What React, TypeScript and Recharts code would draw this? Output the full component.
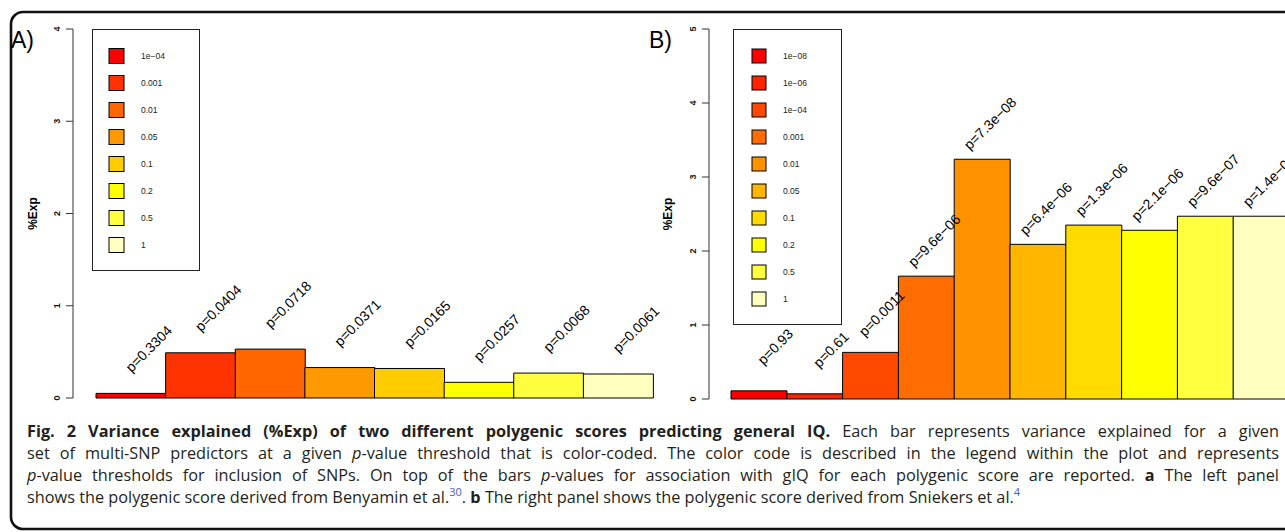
import React from "react";
import { BarChart, Bar, XAxis, YAxis, Cell, LabelList, Legend } from "recharts";

// panel A: Benyamin et al. score
const thresholdsA = ["1e\u221204", "0.001", "0.01", "0.05", "0.1", "0.2", "0.5", "1"];
const expA = [0.05, 0.49, 0.53, 0.33, 0.32, 0.17, 0.27, 0.26];
const pLabelsA = ["p=0.3304", "p=0.0404", "p=0.0718", "p=0.0371", "p=0.0165", "p=0.0257", "p=0.0068", "p=0.0061"];
const colorsA = ["#FF0000", "#FF3300", "#FF6600", "#FF9900", "#FFCC00", "#FFFF00", "#FFFF40", "#FFFFBF"];
const ticksA = [0, 1, 2, 3, 4];

// panel B: Sniekers et al. score
const thresholdsB = ["1e\u221208", "1e\u221206", "1e\u221204", "0.001", "0.01", "0.05", "0.1", "0.2", "0.5", "1"];
const expB = [0.11, 0.07, 0.63, 1.66, 3.24, 2.09, 2.35, 2.28, 2.47, 2.47];
const pLabelsB = [
  "p=0.93", "p=0.61", "p=0.0011", "p=9.6e\u221206", "p=7.3e\u221208",
  "p=6.4e\u221206", "p=1.3e\u221206", "p=2.1e\u221206", "p=9.6e\u221207", "p=1.4e\u221206",
];
const colorsB = ["#FF0000", "#FF2400", "#FF4900", "#FF6D00", "#FF9200", "#FFB600", "#FFDB00", "#FFFF00", "#FFFF40", "#FFFFBF"];
const ticksB = [0, 1, 2, 3, 4, 5];

const FONT = "'Liberation Sans', Arial, Helvetica, sans-serif";

const YTick = (props: any) => {
  const { x, y, payload } = props;
  const tx = x - 7;
  return (
    <text x={tx} y={y} transform={`rotate(-90 ${tx} ${y})`} textAnchor="middle" dominantBaseline="central"
      fontSize={9} fontWeight="bold" fill="#111" fontFamily={FONT}>
      {payload.value}
    </text>
  );
};

function LegendBox({ items, colors, w, h, swX, sw, txtX }: any) {
  return (
    <svg width={w} height={h} style={{ display: "block" }}>
      <rect x={0.5} y={0.5} width={w - 1} height={h - 1} fill="#fff" stroke="#222" strokeWidth={1} />
      {items.map((t: string, i: number) => {
        const cy = 27 + i * 27;
        return (
          <g key={t}>
            <rect x={swX} y={cy - sw / 2} width={sw} height={sw} fill={colors[i]} stroke="#000" strokeWidth={1} />
            <text x={txtX} y={cy} dominantBaseline="central" fontSize={8.5} fill="#222" fontFamily={FONT}>{t}</text>
          </g>
        );
      })}
    </svg>
  );
}

function Panel({ thresholds, values, pLabels, colors, ticks, left, width, axisWidth, padLeft, marginRight, bottom, labelDx, labelDy, legend }: any) {
  const data = values.map((v: number, i: number) => ({ threshold: thresholds[i], exp: v, p: pLabels[i] }));
  const max = ticks[ticks.length - 1];
  const renderLabel = (props: any) => {
    const { x, y, width: bw, value } = props;
    const ax = Number(x) + Number(bw) / 2 + labelDx;
    const ay = Number(y) + labelDy;
    return (
      <text x={ax} y={ay} textAnchor="end" fontSize={14} fill="#000" fontFamily={FONT}
        transform={`rotate(-45 ${ax} ${ay})`}>
        {value}
      </text>
    );
  };
  return (
    <div style={{ position: "absolute", left, top: 0 }}>
      <BarChart width={width} height={532} data={data} barCategoryGap={0} barGap={0}
        margin={{ top: 29, right: marginRight, bottom, left: 0 }}>
        <XAxis dataKey="threshold" hide padding={{ left: padLeft, right: 0 }} />
        <YAxis type="number" domain={[0, max]} ticks={ticks} interval={0} width={axisWidth}
          tickSize={7} tickMargin={2} tick={<YTick />}
          axisLine={{ stroke: "#333" }} tickLine={{ stroke: "#333" }}
          label={{
            content: (p: any) => {
              const vb = p.viewBox;
              const cx = vb.x + legend.titleX;
              const cy = vb.y + vb.height / 2;
              return (
                <text x={cx} y={cy} transform={`rotate(-90 ${cx} ${cy})`} textAnchor="middle" dominantBaseline="central"
                  fontSize={12} fontWeight="bold" fill="#000" fontFamily={FONT}>%Exp</text>
              );
            },
          }}
        />
        <Legend layout="vertical" align="center" verticalAlign="middle"
          wrapperStyle={{ left: legend.x, top: 29, width: legend.w, height: legend.h }}
          content={() => (
            <LegendBox items={thresholds} colors={colors} w={legend.w} h={legend.h} swX={legend.swX} sw={legend.sw} txtX={legend.txtX} />
          )}
        />
        <Bar dataKey="exp" isAnimationActive={false} stroke="#000" strokeWidth={1}>
          {data.map((d: any, i: number) => <Cell key={d.threshold} fill={colors[i]} />)}
          <LabelList dataKey="p" content={renderLabel} />
        </Bar>
      </BarChart>
    </div>
  );
}

const captionLine: React.CSSProperties = { textAlign: "justify", textAlignLast: "justify", height: 22, whiteSpace: "normal" };
const sup: React.CSSProperties = { color: "#4a5ad8", fontSize: 11, verticalAlign: 7, lineHeight: 0 };

export default function App() {
  return (
    <div style={{ position: "absolute", left: 0, top: 0, width: 1285, height: 532, overflow: "hidden", background: "#fff" }}>
      <svg width={1285} height={532} style={{ position: "absolute", left: 0, top: 0 }}>
        <rect x={11} y={12} width={1400} height={517} rx={12} fill="none" stroke="#111" strokeWidth={2.6} />
        <text x={11} y={48} fontSize={23} fontFamily={FONT} fill="#000">A)</text>
        <text x={649} y={48} fontSize={23} fontFamily={FONT} fill="#000">B)</text>
      </svg>
      <Panel thresholds={thresholdsA} values={expA} pLabels={pLabelsA} colors={colorsA} ticks={ticksA}
        left={0} width={700} axisWidth={73} padLeft={23} marginRight={47} bottom={134}
        labelDx={42} labelDy={-62}
        legend={{ x: 92, w: 108, h: 242, swX: 17, sw: 15, txtX: 49, titleX: 33 }} />
      <Panel thresholds={thresholdsB} values={expB} pLabels={pLabelsB} colors={colorsB} ticks={ticksB}
        left={640} width={660} axisWidth={69} padLeft={22} marginRight={11} bottom={133}
        labelDx={35} labelDy={-56}
        legend={{ x: 93, w: 109, h: 296, swX: 19, sw: 14, txtX: 50, titleX: 28 }} />
      <div style={{
        position: "absolute", left: 27, top: 420, width: 1252,
        fontFamily: "'Open Sans', 'Noto Sans', sans-serif", fontSize: 16.3, lineHeight: "22px", color: "#231f20",
      }}>
        <div style={captionLine}>
          <b>Fig. 2 Variance explained (%Exp) of two different polygenic scores predicting general IQ.</b> Each bar represents variance explained for a given
        </div>
        <div style={captionLine}>
          set of multi-SNP predictors at a given <i>p</i>-value threshold that is color-coded. The color code is described in the legend within the plot and represents
        </div>
        <div style={captionLine}>
          <i>p</i>-value thresholds for inclusion of SNPs. On top of the bars <i>p</i>-values for association with gIQ for each polygenic score are reported. <b>a</b> The left panel
        </div>
        <div style={{ height: 22, whiteSpace: "nowrap" }}>
          shows the polygenic score derived from Benyamin et al.<span style={sup}>30</span>. <b>b</b> The right panel shows the polygenic score derived from Sniekers et al.<span style={sup}>4</span>
        </div>
      </div>
    </div>
  );
}
